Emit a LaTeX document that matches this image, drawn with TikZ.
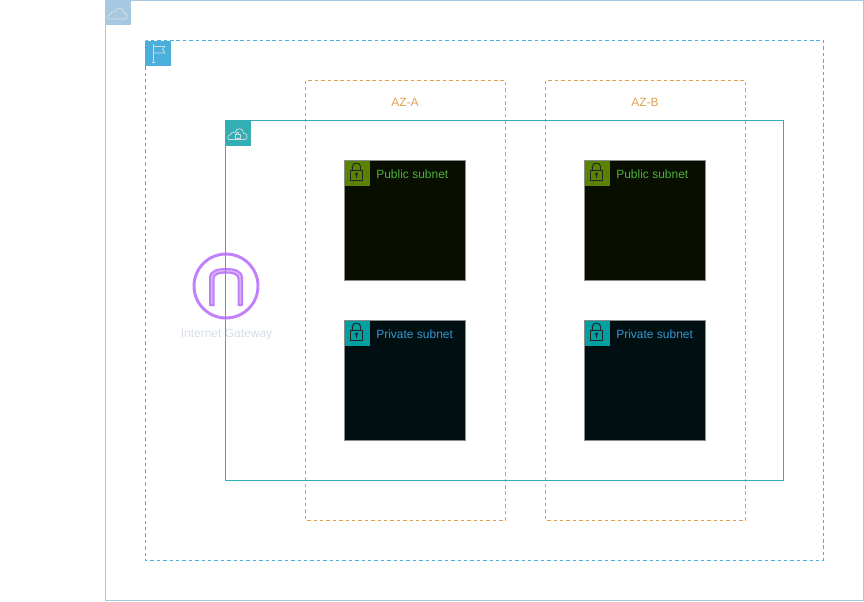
\documentclass[tikz,border=0pt]{standalone}
\usepackage{fontspec}
\setmainfont{Liberation Sans}
\usetikzlibrary{calc}
\definecolor{cloudblue}{RGB}{166,200,224}
\definecolor{regionblue}{RGB}{75,175,220}
\definecolor{vpcteal}{RGB}{52,174,181}
\definecolor{azorange}{RGB}{224,160,80}
\definecolor{gwpurple}{RGB}{192,128,252}
\definecolor{gwtext}{RGB}{214,221,232}
\definecolor{pubfill}{RGB}{8,14,0}
\definecolor{pubhead}{RGB}{90,132,0}
\definecolor{pubtext}{RGB}{76,178,64}
\definecolor{privfill}{RGB}{0,16,18}
\definecolor{privhead}{RGB}{0,160,162}
\definecolor{privtext}{RGB}{54,150,206}
\tikzset{
    iconline/.style={draw=white!90!black, draw opacity=0.85, line width=0.55pt, line join=round},
    lockline/.style={draw=black!85, line width=0.7pt},
    subnetbox/.style={draw=black!45, line width=0.6pt},
    boxlabel/.style={font=\fontsize{9}{11}\selectfont, inner sep=0pt},
}
\newcommand{\cloudpath}{(4,19) .. controls (1.5,19) and (1.5,14.5) .. (5,14) .. controls (5,11.5) and (8,11) .. (9.5,12)
    .. controls (10.5,6.5) and (18,7) .. (18,12.5) .. controls (22.5,12.5) and (22.5,19) .. (19,19) -- cycle}
\newcommand{\subnethead}[3]{\begin{scope}[shift={(#1,#2)}]
        \fill[#3] (0,0) rectangle (25,25);
        \draw[lockline] (5.7,9.7) rectangle (18.3,19.7);
        \draw[lockline] (7.8,9.7) -- (7.8,6) .. controls (7.8,1.5) and (16,1.5) .. (16,6) -- (16,9.7);
        \draw[lockline] (12,13.8) circle (1.2);
        \draw[lockline] (12,15) -- (12,17.8);
    \end{scope}
}
\begin{document}
\begin{tikzpicture}[x=0.75pt, y=-0.75pt]
    \useasboundingbox (0,0) rectangle (864,601);

    % Internet gateway
    \draw[gwpurple, line width=2.2pt] (226,286) circle (32);
    \draw[gwpurple, line width=1.5pt, line join=miter, fill=gwpurple!60]
        (210,305) -- (210,278) .. controls (210,271) and (217,269) .. (226,269) .. controls (235,269) and (242,271) .. (242,278) -- (242,305)
        -- (238.5,305) -- (238.5,279) .. controls (238.5,274) and (233,272.5) .. (226,272.5) .. controls (219,272.5) and (213.5,274) .. (213.5,279) -- (213.5,305) -- cycle;
    \node[boxlabel, text=gwtext] (gwlabel) at (226.5,334.5) {Internet Gateway};

    % Draw containers
    \draw[cloudblue, line width=0.75pt] (105.5,0.5) rectangle (863.5,600.5);
    \draw[regionblue, line width=0.6pt, dash pattern=on 2.6pt off 2.2pt] (145.5,40.5) rectangle (823.5,560.5);
    \draw[azorange, line width=0.6pt, dash pattern=on 2.6pt off 2.2pt] (305.5,80.5) rectangle (505.5,520.5);
    \draw[azorange, line width=0.6pt, dash pattern=on 2.6pt off 2.2pt] (545.5,80.5) rectangle (745.5,520.5);
    \draw[vpcteal, line width=0.75pt] (225.5,120.5) rectangle (783.5,480.5);

    \node[boxlabel, text=azorange] (aza) at (405,102) {AZ-A};
    \node[boxlabel, text=azorange] (azb) at (645,102) {AZ-B};

    % Draw corner icons
    \begin{scope}[shift={(105.5,0)}]
        \fill[cloudblue] (0,0) rectangle (25,25);
        \draw[iconline] \cloudpath;
    \end{scope}
    \begin{scope}[shift={(145,40.5)}]
        \fill[regionblue] (0,0) rectangle (25.5,25.5);
        \draw[iconline] (8.5,3.5) -- (8.5,21.5);
        \draw[iconline] (7,21.5) -- (10,21.5);
        \draw[iconline] (8.5,6) -- (20,6) -- (17.5,9.2) -- (20,12.5) -- (8.5,12.5);
    \end{scope}
    \begin{scope}[shift={(225.5,120.5)}]
        \fill[vpcteal] (0,0) rectangle (25,25);
        \draw[iconline] \cloudpath;
        \draw[iconline] (9.5,14) rectangle (14.5,17.5);
        \draw[iconline] (10.5,14) .. controls (10.5,11) and (13.5,11) .. (13.5,14);
    \end{scope}

    % Draw subnets
    \foreach \x/\azname in {345/a, 585/b} {
        \draw[subnetbox, fill=pubfill] (\x-0.5,160.5) rectangle (\x+120.5,280.5);
        \subnethead{\x-0.5}{160.5}{pubhead}
        \node[boxlabel, text=pubtext, anchor=west] (pub\azname) at (\x+31,174.5) {Public subnet};
        \draw[subnetbox, fill=privfill] (\x-0.5,320.5) rectangle (\x+120.5,440.5);
        \subnethead{\x-0.5}{320.5}{privhead}
        \node[boxlabel, text=privtext, anchor=west] (priv\azname) at (\x+31,334.5) {Private subnet};
    }
\end{tikzpicture}
\end{document}
